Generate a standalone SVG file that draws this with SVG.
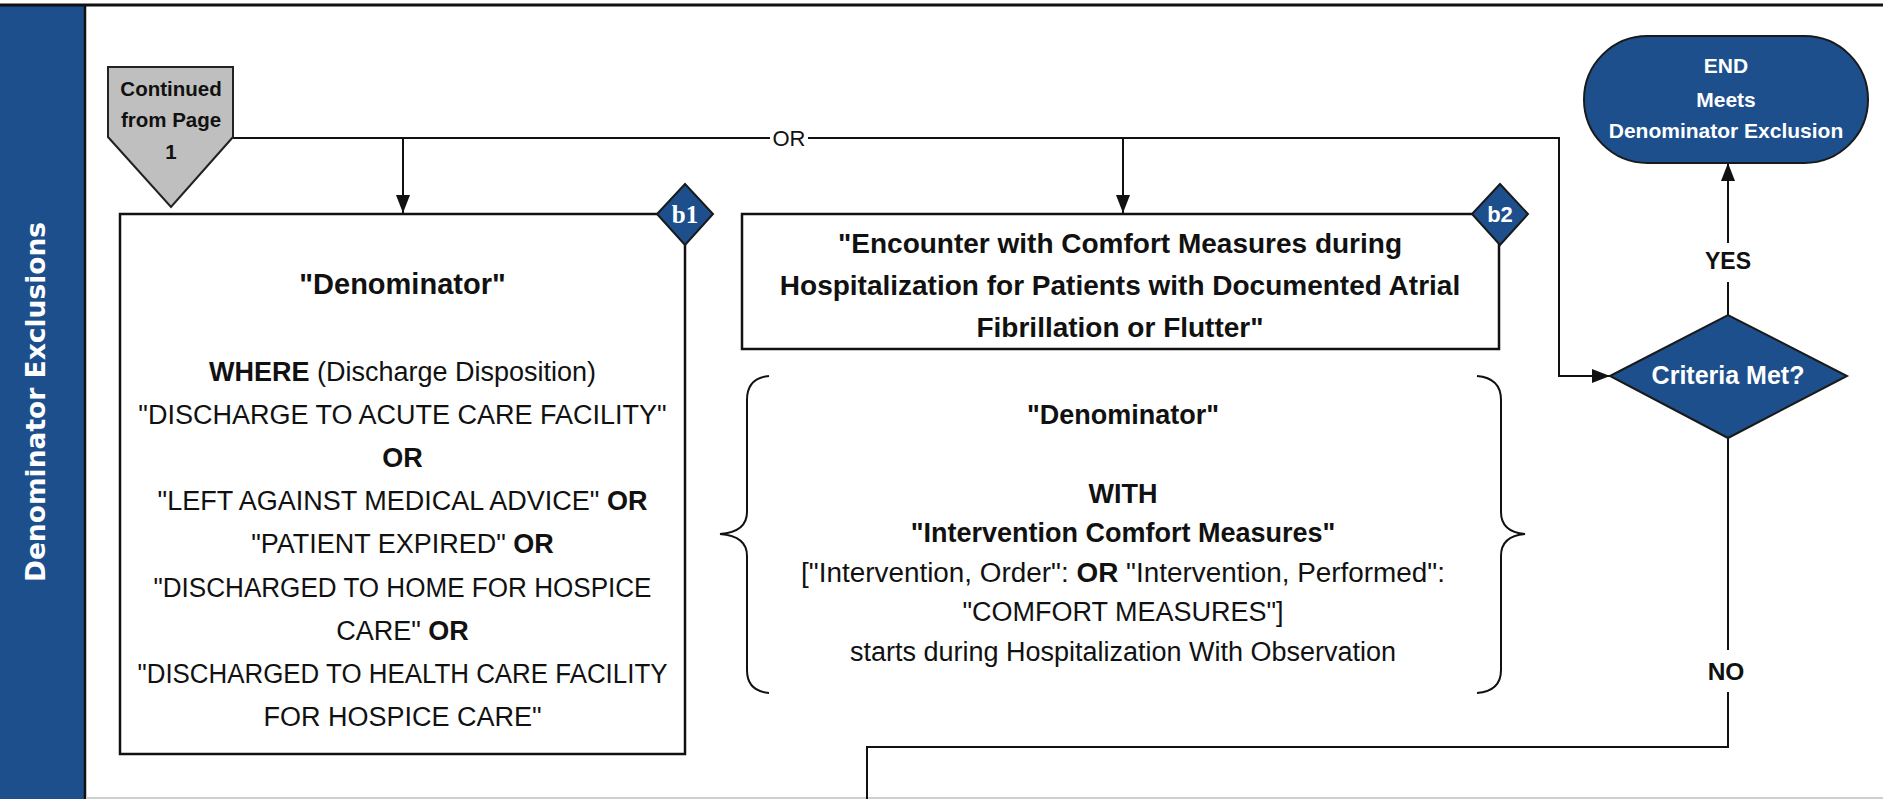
<svg xmlns="http://www.w3.org/2000/svg" width="1883" height="799" viewBox="0 0 1883 799">
  <defs>
    <style>
      .txt{font-family:"Liberation Sans",Arial,sans-serif;fill:#111;text-anchor:middle}
      .bd{font-weight:bold}
      .wt{fill:#fff}
      .conn{fill:none;stroke:#111;stroke-width:2}
      .box{fill:#fff;stroke:#111;stroke-width:2.5}
      .blue{fill:#1c4f8c;stroke:#1a1a1a;stroke-width:2}
      .gap{fill:#fff}
    </style>
    <marker id="arrow" viewBox="0 0 18 14" refX="18" refY="7" markerWidth="18" markerHeight="14" markerUnits="userSpaceOnUse" orient="auto">
      <path d="M0,0 L18,7 L0,14 z" fill="#111"/>
    </marker>
  </defs>

  <rect width="1883" height="799" fill="#fff"/>

  <!-- swimlane header -->
  <g id="lane">
    <rect x="0" y="5" width="85" height="794" fill="#1c4f8c"/>
    <line x1="0" y1="5" x2="1883" y2="5" stroke="#111" stroke-width="3"/>
    <line x1="85" y1="5" x2="85" y2="799" stroke="#111" stroke-width="2.5"/>
    <line x1="86" y1="798" x2="1883" y2="798" stroke="#cfcfcf" stroke-width="2"/>
    <text transform="translate(45,402) rotate(-90)" style="font-family:'DejaVu Sans',Verdana,sans-serif;font-weight:bold;font-size:26.5px;fill:#fff;text-anchor:middle">Denominator Exclusions</text>
  </g>

  <!-- connectors -->
  <g id="connectors">
    <path class="conn" d="M233,138 H1559 V376 H1610" marker-end="url(#arrow)"/>
    <path class="conn" d="M403,138 V213" marker-end="url(#arrow)"/>
    <path class="conn" d="M1123,138 V213" marker-end="url(#arrow)"/>
    <path class="conn" d="M1728,315 V163" marker-end="url(#arrow)"/>
    <path class="conn" d="M1728,438 V747 H867 V799"/>
    <rect class="gap" x="770" y="127" width="38" height="22"/>
    <text class="txt" x="789" y="146" style="font-size:22px">OR</text>
    <rect class="gap" x="1704" y="243" width="48" height="39"/>
    <text class="txt bd" x="1728" y="269" style="font-size:23px">YES</text>
    <rect class="gap" x="1704" y="650" width="48" height="42"/>
    <text class="txt bd" x="1726" y="680" style="font-size:24.5px">NO</text>
  </g>

  <!-- off-page connector -->
  <g id="from-page-1">
    <polygon points="108,67 233,67 233,137 171,207 108,137" fill="#bfbfbf" stroke="#222" stroke-width="2"/>
    <text class="txt bd" style="font-size:20.5px" x="171" y="96">Continued</text>
    <text class="txt bd" style="font-size:20.5px" x="171" y="127">from Page</text>
    <text class="txt bd" style="font-size:20.5px" x="171" y="159">1</text>
  </g>

  <!-- b1: discharge disposition -->
  <g id="b1">
    <rect class="box" x="120" y="214" width="565" height="540"/>
    <text class="txt bd" x="402.5" y="294" style="font-size:29px">"Denominator"</text>
    <g class="txt" style="font-size:27px">
      <text x="402.5" y="381"><tspan class="bd">WHERE</tspan> (Discharge Disposition)</text>
      <text x="402.5" y="424">"DISCHARGE TO ACUTE CARE FACILITY"</text>
      <text x="402.5" y="467" class="bd">OR</text>
      <text x="402.5" y="510">"LEFT AGAINST MEDICAL ADVICE" <tspan class="bd">OR</tspan></text>
      <text x="402.5" y="553">"PATIENT EXPIRED" <tspan class="bd">OR</tspan></text>
      <text x="402.5" y="597" textLength="498" lengthAdjust="spacingAndGlyphs">"DISCHARGED TO HOME FOR HOSPICE</text>
      <text x="402.5" y="640">CARE" <tspan class="bd">OR</tspan></text>
      <text x="402.5" y="683" textLength="530" lengthAdjust="spacingAndGlyphs">"DISCHARGED TO HEALTH CARE FACILITY</text>
      <text x="402.5" y="726">FOR HOSPICE CARE"</text>
    </g>
    <polygon class="blue" points="685,184 713,214 685,245 657,214"/>
    <text x="685" y="223" style="font-family:'Liberation Serif','Times New Roman',serif;font-weight:bold;font-size:25px;fill:#fff;text-anchor:middle">b1</text>
  </g>

  <!-- b2: comfort measures -->
  <g id="b2">
    <rect class="box" x="742" y="214" width="757" height="135"/>
    <g class="txt bd" style="font-size:28px">
      <text x="1120" y="253">"Encounter with Comfort Measures during</text>
      <text x="1120" y="295">Hospitalization for Patients with Documented Atrial</text>
      <text x="1120" y="337">Fibrillation or Flutter"</text>
    </g>
    <polygon class="blue" points="1500,184 1528,214 1500,245 1472,214"/>
    <text class="txt bd wt" x="1500" y="222" style="font-size:22px">b2</text>
  </g>

  <!-- b2 definition -->
  <g id="b2-definition">
    <path class="conn" d="M769,376 Q747,378 747,400 L747,512 Q747,532 720,534 Q747,536 747,556 L747,670 Q747,691 769,693"/>
    <path class="conn" d="M1477,376 Q1501,378 1501,400 L1501,512 Q1501,532 1525,534 Q1501,536 1501,556 L1501,670 Q1501,691 1477,693"/>
    <g class="txt" style="font-size:27px">
      <text x="1123" y="424" class="bd">"Denominator"</text>
      <text x="1123" y="503" class="bd">WITH</text>
      <text x="1123" y="542" class="bd">"Intervention Comfort Measures"</text>
      <text x="1123" y="582" textLength="644" lengthAdjust="spacingAndGlyphs">["Intervention, Order": <tspan class="bd">OR</tspan> "Intervention, Performed":</text>
      <text x="1123" y="621">"COMFORT MEASURES"]</text>
      <text x="1123" y="661">starts during Hospitalization With Observation</text>
    </g>
  </g>

  <!-- decision -->
  <g id="criteria-met">
    <polygon class="blue" points="1610,376 1728,315 1847,376 1728,438"/>
    <text class="txt bd wt" x="1728" y="384" style="font-size:25px">Criteria Met?</text>
  </g>

  <!-- terminal -->
  <g id="end">
    <rect class="blue" x="1584" y="36" width="284" height="127" rx="63.5" ry="63.5"/>
    <g class="txt bd wt" style="font-size:21px">
      <text x="1726" y="73">END</text>
      <text x="1726" y="107">Meets</text>
      <text x="1726" y="138">Denominator Exclusion</text>
    </g>
  </g>
</svg>
